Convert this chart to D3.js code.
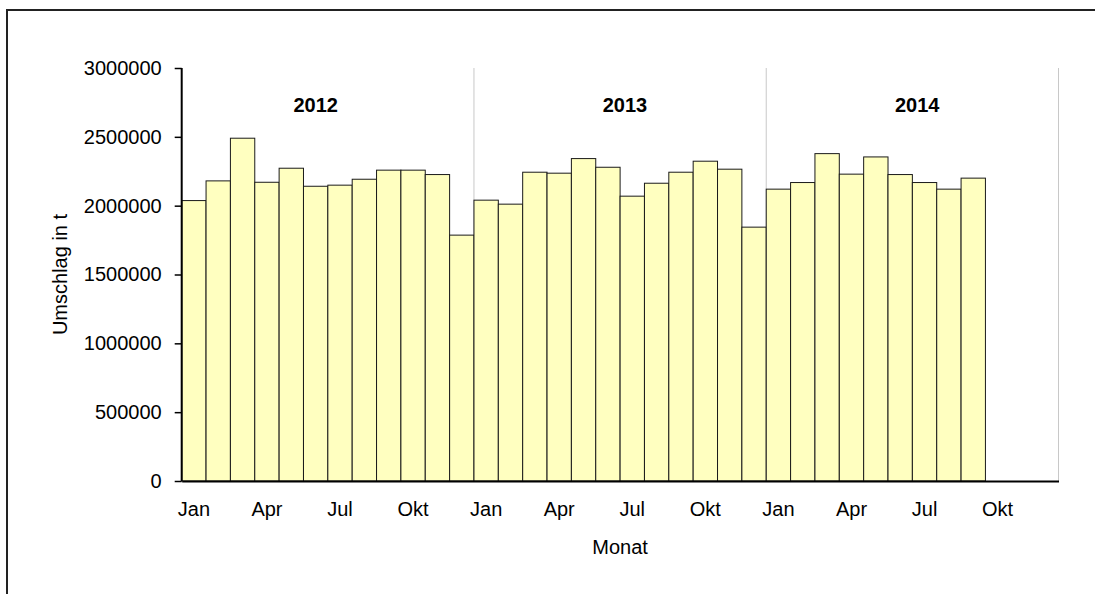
<!DOCTYPE html>
<html>
<head>
<meta charset="utf-8">
<script src="https://cdn.jsdelivr.net/npm/d3@7"></script>
<style>
    body { margin: 0; background: #fff; overflow: hidden; }
    svg { display: block; font-family: "Liberation Sans", Arial, sans-serif; }
</style>
</head>
<body>
<div id="chart"></div>
<script>
const years = ['2012', '2013', '2014'];
const monthNames = ['Jan', 'Feb', 'Mär', 'Apr', 'Mai', 'Jun', 'Jul', 'Aug', 'Sep', 'Okt', 'Nov', 'Dez'];
const shownMonths = ['Jan', 'Apr', 'Jul', 'Okt'];

const values2012 = [2037000, 2180000, 2490000, 2170000, 2272000, 2141000, 2149000, 2192000, 2258000, 2258000, 2226000, 1786000];
const values2013 = [2040000, 2011000, 2243000, 2236000, 2342000, 2279000, 2069000, 2163000, 2243000, 2323000, 2265000, 1844000];
const values2014 = [2120000, 2168000, 2378000, 2229000, 2354000, 2226000, 2168000, 2120000, 2200000];

const yTicks = [0, 500000, 1000000, 1500000, 2000000, 2500000, 3000000];

document.addEventListener('DOMContentLoaded', () => {
    renderChart();
});

function renderChart() {
    const width = 1095;
    const height = 594;
    const margin = { top: 68, right: 36.5, bottom: 113, left: 181.7 };
    const innerW = width - margin.left - margin.right;
    const innerH = height - margin.top - margin.bottom;

    // one slot per month over all three years
    const slots = [];
    years.forEach(y => monthNames.forEach(m => slots.push({ year: y, month: m, key: y + '-' + m })));

    const seriesByYear = { '2012': values2012, '2013': values2013, '2014': values2014 };
    const bars = [];
    years.forEach(y => {
        seriesByYear[y].forEach((v, i) => bars.push({ key: y + '-' + monthNames[i], value: v }));
    });

    const svg = d3.select('#chart')
        .append('svg')
        .attr('width', width)
        .attr('height', height);

    // outer frame (only left and top edges are in view)
    svg.append('path')
        .attr('d', `M7,${height}V10H${width}`)
        .attr('fill', 'none')
        .attr('stroke', '#222')
        .attr('stroke-width', 2);

    const g = svg.append('g')
        .attr('transform', `translate(${margin.left},${margin.top})`);

    const x = d3.scaleBand()
        .domain(slots.map(d => d.key))
        .range([0, innerW])
        .padding(0);

    const y = d3.scaleLinear()
        .domain([0, 3000000])
        .range([innerH, 0]);

    // year separators
    g.selectAll('.sep')
        .data(years.slice(1).map(yr => yr + '-Jan').concat(['end']))
        .enter()
        .append('line')
        .attr('x1', d => d === 'end' ? innerW : x(d))
        .attr('x2', d => d === 'end' ? innerW : x(d))
        .attr('y1', 0)
        .attr('y2', innerH)
        .attr('stroke', '#c8c8c8')
        .attr('stroke-width', 1);

    g.selectAll('.bar')
        .data(bars)
        .enter()
        .append('rect')
        .attr('class', 'bar')
        .attr('x', d => x(d.key))
        .attr('y', d => y(d.value))
        .attr('width', x.bandwidth())
        .attr('height', d => innerH - y(d.value))
        .attr('fill', '#ffffc0')
        .attr('stroke', '#1a1a1a')
        .attr('stroke-width', 1);

    // y axis
    const yAxis = g.append('g')
        .call(d3.axisLeft(y).tickValues(yTicks).tickFormat(d3.format('d')).tickSize(7).tickPadding(13));
    yAxis.select('.domain').attr('stroke', '#000').attr('stroke-width', 2).attr('d', `M0,0V${innerH}`);
    yAxis.selectAll('.tick line').attr('stroke', '#000').attr('stroke-width', 1.5);
    yAxis.selectAll('.tick text').attr('font-size', 20).attr('fill', '#000').attr('font-family', '"Liberation Sans", Arial, sans-serif');

    // x axis
    const xAxis = g.append('g')
        .attr('transform', `translate(0,${innerH})`)
        .call(d3.axisBottom(x)
            .tickValues(slots.filter(d => shownMonths.includes(d.month)).map(d => d.key))
            .tickFormat(k => k.split('-')[1])
            .tickSize(0)
            .tickPadding(21));
    xAxis.select('.domain').attr('stroke', '#000').attr('stroke-width', 2);
    xAxis.selectAll('.tick text').attr('font-size', 20).attr('fill', '#000').attr('font-family', '"Liberation Sans", Arial, sans-serif');

    // year labels
    const yearOffset = { '2012': 5.5, '2013': 6.2, '2014': 6.2 };
    g.selectAll('.year')
        .data(years)
        .enter()
        .append('text')
        .attr('x', d => x(d + '-Jan') + yearOffset[d] * x.bandwidth())
        .attr('y', 112 - margin.top)
        .attr('text-anchor', 'middle')
        .attr('font-size', 20)
        .attr('font-weight', 'bold')
        .text(d => d);

    // axis titles
    svg.append('text')
        .attr('x', margin.left + innerW / 2)
        .attr('y', 554)
        .attr('text-anchor', 'middle')
        .attr('font-size', 20)
        .text('Monat');

    svg.append('text')
        .attr('transform', `translate(67,${margin.top + innerH / 2}) rotate(-90)`)
        .attr('text-anchor', 'middle')
        .attr('font-size', 20)
        .text('Umschlag in t');
}
</script>
</body>
</html>
